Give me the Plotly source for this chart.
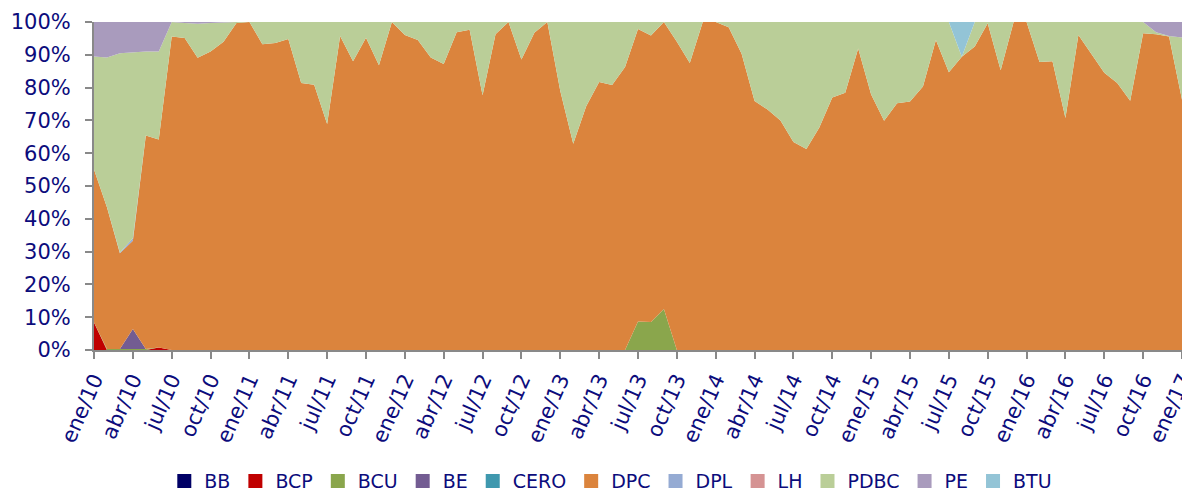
import plotly.graph_objects as go

MONTHS = ["ene", "feb", "mar", "abr", "may", "jun", "jul", "ago", "sep", "oct", "nov", "dic"]
categories = [f"{MONTHS[m]}/{y:02d}" for y in range(10, 18) for m in range(12)][:85]
tick_labels = categories[::3]

n = 85
def sparse(d):
    return [d.get(i, 0.0) for i in range(n)]

BB = sparse({})
BCP = sparse({0: 8.4, 5: 0.8})
BCU = sparse({1: 0.3, 2: 0.3, 3: 0.3, 4: 0.3, 42: 8.7, 43: 8.5, 44: 12.5})
BE = sparse({3: 6.1})
CERO = sparse({})
DPC = [46.6, 43.2, 29.2, 26.9, 65.1, 63.4, 95.6, 95.1, 89.1, 91.0,
       94.0, 99.7, 100.0, 93.2, 93.6, 94.8, 81.4, 80.9, 68.9, 95.7,
       88.0, 95.2, 86.8, 100.0, 96.0, 94.5, 89.2, 87.2, 96.9, 97.6,
       77.7, 96.3, 100.0, 88.6, 96.7, 100.0, 79.0, 62.9, 74.3, 81.7,
       80.8, 86.3, 89.2, 87.4, 87.5, 94.0, 87.5, 100.0, 100.0, 98.4,
       90.3, 75.9, 73.3, 70.0, 63.4, 61.3, 67.8, 77.0, 78.4, 91.9,
       77.9, 69.9, 75.2, 75.8, 80.3, 94.5, 84.7, 89.4, 92.5, 99.6,
       85.3, 100.0, 100.0, 87.8, 88.0, 70.7, 96.0, 90.2, 84.5, 81.4,
       76.0, 96.6, 96.3, 95.6, 76.3]
DPL = sparse({2: 0.2, 3: 0.8})
LH = sparse({})
PDBC = [34.5, 45.7, 60.8, 56.7, 25.6, 26.8, 4.4, 4.6, 10.4, 8.7,
        5.9, 0.3, 0.0, 6.8, 6.4, 5.2, 18.6, 19.1, 31.1, 4.3,
        12.0, 4.8, 13.2, 0.0, 4.0, 5.5, 10.8, 12.8, 3.1, 2.4,
        22.3, 3.7, 0.0, 11.4, 3.3, 0.0, 21.0, 37.1, 25.7, 18.3,
        19.2, 13.7, 2.1, 4.1, 0.0, 6.0, 12.5, 0.0, 0.0, 1.6,
        9.7, 24.1, 26.7, 30.0, 36.6, 38.7, 32.2, 23.0, 21.6, 8.1,
        22.1, 30.1, 24.8, 24.2, 19.7, 5.5, 15.3, 0.0, 7.5, 0.4,
        14.7, 0.0, 0.0, 12.2, 12.0, 29.3, 4.0, 9.8, 15.5, 18.6,
        24.0, 3.4, 0.6, 0.1, 19.0]
PE = sparse({0: 10.5, 1: 10.8, 2: 9.5, 3: 9.2, 4: 9.0, 5: 9.0, 7: 0.3, 8: 0.5,
             9: 0.3, 10: 0.1, 82: 3.1, 83: 4.3, 84: 4.7})
BTU = sparse({67: 10.6})

series = [
    ("BB", BB, "#000066"),
    ("BCP", BCP, "#C00000"),
    ("BCU", BCU, "#8AA64C"),
    ("BE", BE, "#735C92"),
    ("CERO", CERO, "#3F98AE"),
    ("DPC", DPC, "#DB843D"),
    ("DPL", DPL, "#95ABD3"),
    ("LH", LH, "#D59393"),
    ("PDBC", PDBC, "#BACE98"),
    ("PE", PE, "#A99BBD"),
    ("BTU", BTU, "#93C4D6"),
]

FONT = "DejaVu Sans"
TXT = "#0C0C7C"

fig = go.Figure()
for name, vals, col in series:
    fig.add_trace(go.Scatter(
        x=categories, y=vals, name=name, mode="lines",
        stackgroup="one", groupnorm="percent",
        line=dict(width=0, color=col), fillcolor=col,
        hoverinfo="x+y+name", legendgroup=name, showlegend=False,
    ))
# legend entries with square swatches
for name, vals, col in series:
    fig.add_trace(go.Scatter(
        x=[None], y=[None], name=name, mode="markers",
        marker=dict(symbol="square", size=14, color=col),
        legendgroup=name, showlegend=True, hoverinfo="skip",
    ))

fig.update_layout(
    width=1182, height=491,
    margin=dict(l=94, r=0, t=22, b=141, autoexpand=False),
    paper_bgcolor="white", plot_bgcolor="white",
    font=dict(family=FONT, color=TXT),
    showlegend=True,
    legend=dict(orientation="h", x=0.475, xanchor="center", y=-0.40, yanchor="middle",
                font=dict(size=19, family=FONT, color=TXT),
                itemwidth=30, traceorder="normal", bgcolor="rgba(0,0,0,0)"),
    xaxis=dict(type="category", range=[0, 84], tickmode="array",
               tickvals=tick_labels, ticktext=tick_labels, tickangle=-66,
               tickfont=dict(size=21, family=FONT, color=TXT),
               showline=True, linecolor="#898989", linewidth=2,
               ticks="outside", ticklen=7, tickcolor="#898989", tickwidth=1.5,
               showgrid=False, zeroline=False, automargin=False),
    yaxis=dict(range=[0, 100], tickmode="array", tickvals=list(range(0, 101, 10)),
               ticktext=[f"{v}%" for v in range(0, 101, 10)],
               tickfont=dict(size=21, family=FONT, color=TXT),
               showline=True, linecolor="#898989", linewidth=2,
               ticks="outside", ticklen=7, tickcolor="#898989", tickwidth=1.5,
               ticklabelstandoff=10,
               showgrid=False, zeroline=False, automargin=False),
)

fig.write_html(
    "out.html",
    config={"displayModeBar": False},
    post_script="document.body.style.margin='0';document.body.style.overflow='hidden';",
)
